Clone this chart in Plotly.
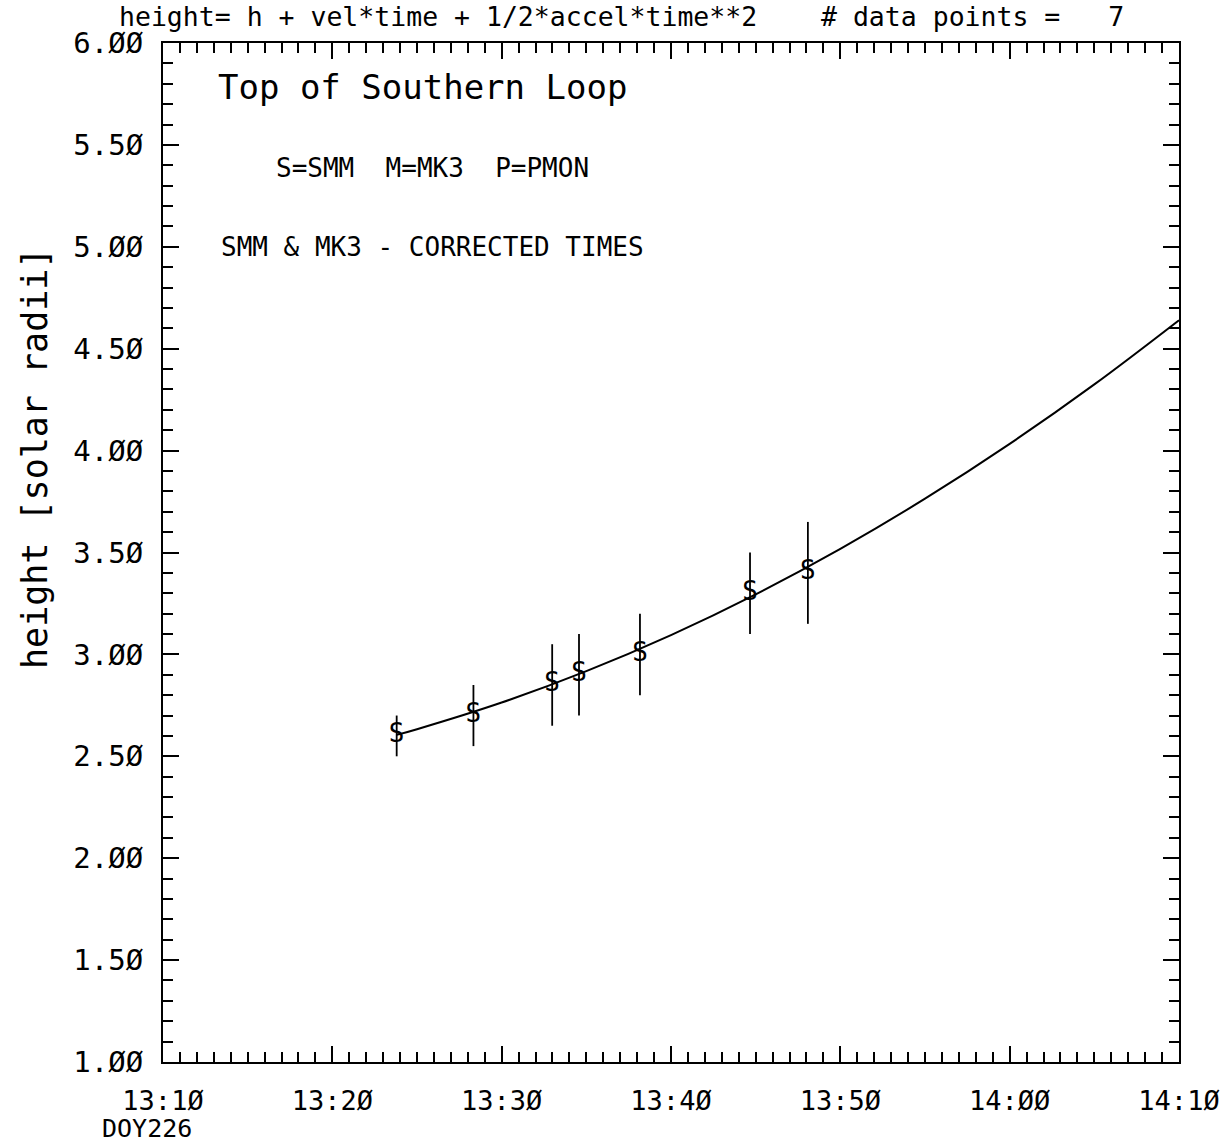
import plotly.graph_objects as go

# ---------------- data ----------------
obs_times = ["13:23:48", "13:28:20", "13:32:59", "13:34:34", "13:38:10", "13:44:40", "13:48:05"]
obs_height = [2.60, 2.70, 2.85, 2.90, 3.00, 3.30, 3.40]
obs_err = [0.10, 0.15, 0.20, 0.20, 0.20, 0.20, 0.25]
obs_symbol = ["S", "S", "S", "S", "S", "S", "S"]

fit_times = ["13:23:48", "13:25:00", "13:30:00", "13:35:00", "13:40:00", "13:45:00",
             "13:50:00", "13:55:00", "14:00:00", "14:05:00", "14:10:00"]
fit_height = [2.605, 2.633, 2.764, 2.918, 3.095, 3.295, 3.518, 3.764, 4.033, 4.325, 4.640]

x_tick_times = ["13:10", "13:20", "13:30", "13:40", "13:50", "14:00", "14:10"]
x_tick_text = ["13:1Ø", "13:2Ø", "13:3Ø", "13:4Ø", "13:5Ø", "14:ØØ", "14:1Ø"]
y_tick_vals = [1.0, 1.5, 2.0, 2.5, 3.0, 3.5, 4.0, 4.5, 5.0, 5.5, 6.0]
y_tick_text = ["1.ØØ", "1.5Ø", "2.ØØ", "2.5Ø", "3.ØØ", "3.5Ø", "4.ØØ", "4.5Ø", "5.ØØ", "5.5Ø", "6.ØØ"]

header_text = "height= h + vel*time + 1/2*accel*time**2    # data points =   7"
label_title = "Top of Southern Loop"
label_key = "S=SMM  M=MK3  P=PMON"
label_note = "SMM & MK3 - CORRECTED TIMES"
y_title = "height [solar radii]"
x_sub = "DOY226"


def to_min(s):
    parts = [float(p) for p in s.split(":")]
    h, m = parts[0], parts[1]
    sec = parts[2] if len(parts) > 2 else 0.0
    return (h - 13) * 60 + m + sec / 60.0


obs_x = [to_min(t) for t in obs_times]
fit_x = [to_min(t) for t in fit_times]
x_tick_vals = [to_min(t) for t in x_tick_times]

FONT = "DejaVu Sans Mono"
W, H = 1225, 1144
# plot area in pixels: x 163..1179, y 43..1062
L, R, T, B = 163, 1225 - 1179, 43, 1144 - 1062
pw, ph = W - L - R, H - T - B


def px(x):  # pixel x -> paper
    return (x - L) / pw


def py(y):  # pixel y -> paper
    return (H - B - y) / ph


fig = go.Figure()
fig.add_trace(go.Scatter(
    x=fit_x, y=fit_height, mode="lines",
    line=dict(color="black", width=2, shape="spline"),
    hoverinfo="skip", showlegend=False))
fig.add_trace(go.Scatter(
    x=obs_x, y=obs_height, mode="text", text=obs_symbol,
    textposition="middle center",
    textfont=dict(family=FONT, size=26, color="black"),
    error_y=dict(type="data", array=obs_err, visible=True, width=0,
                 thickness=1.8, color="black"),
    showlegend=False))

axis_common = dict(
    showgrid=False, zeroline=False, showline=True, linecolor="black",
    linewidth=2, mirror="allticks", ticks="inside", tickcolor="black",
    tickwidth=1.5, ticklen=16, automargin=False,
)

fig.update_xaxes(
    range=[10, 70], tickmode="array", tickvals=x_tick_vals, ticktext=x_tick_text,
    minor=dict(dtick=1, tick0=10, ticks="inside", ticklen=10, tickwidth=1.5,
               tickcolor="black", showgrid=False),
    ticklabelstandoff=14,
    tickfont=dict(family=FONT, size=27, color="black"),
    **axis_common)
fig.update_yaxes(
    range=[1, 6], tickmode="array", tickvals=y_tick_vals, ticktext=y_tick_text,
    minor=dict(dtick=0.1, tick0=1, ticks="inside", ticklen=10, tickwidth=1.5,
               tickcolor="black", showgrid=False),
    ticklabelstandoff=12,
    tickfont=dict(family=FONT, size=29, color="black"),
    **axis_common)

ann = []
ann.append(dict(text=header_text, x=px(117), y=py(17), xref="paper", yref="paper",
                xanchor="left", yanchor="middle", showarrow=False,
                font=dict(family=FONT, size=26.5, color="black")))
ann.append(dict(text=label_title, x=px(216), y=py(87), xref="paper", yref="paper",
                xanchor="left", yanchor="middle", showarrow=False,
                font=dict(family=FONT, size=34, color="black")))
ann.append(dict(text=label_key, x=px(274), y=py(168), xref="paper", yref="paper",
                xanchor="left", yanchor="middle", showarrow=False,
                font=dict(family=FONT, size=26, color="black")))
ann.append(dict(text=label_note, x=px(219), y=py(247), xref="paper", yref="paper",
                xanchor="left", yanchor="middle", showarrow=False,
                font=dict(family=FONT, size=26, color="black")))
ann.append(dict(text=y_title, x=px(35), y=py(459), xref="paper", yref="paper",
                xanchor="center", yanchor="middle", textangle=-90, showarrow=False,
                font=dict(family=FONT, size=35, color="black")))
ann.append(dict(text=x_sub, x=px(100), y=py(1128), xref="paper", yref="paper",
                xanchor="left", yanchor="middle", showarrow=False,
                font=dict(family=FONT, size=25, color="black")))

fig.update_layout(
    width=W, height=H, autosize=False,
    margin=dict(l=L, r=R, t=T, b=B, pad=0, autoexpand=False),
    paper_bgcolor="white", plot_bgcolor="white",
    annotations=ann, showlegend=False,
)

# remove the browser's default page margin so the figure sits at the window's corner
fig.write_html("out.html",
               config={"displayModeBar": False},
               post_script="document.body.style.margin='0';document.body.style.overflow='hidden';")
